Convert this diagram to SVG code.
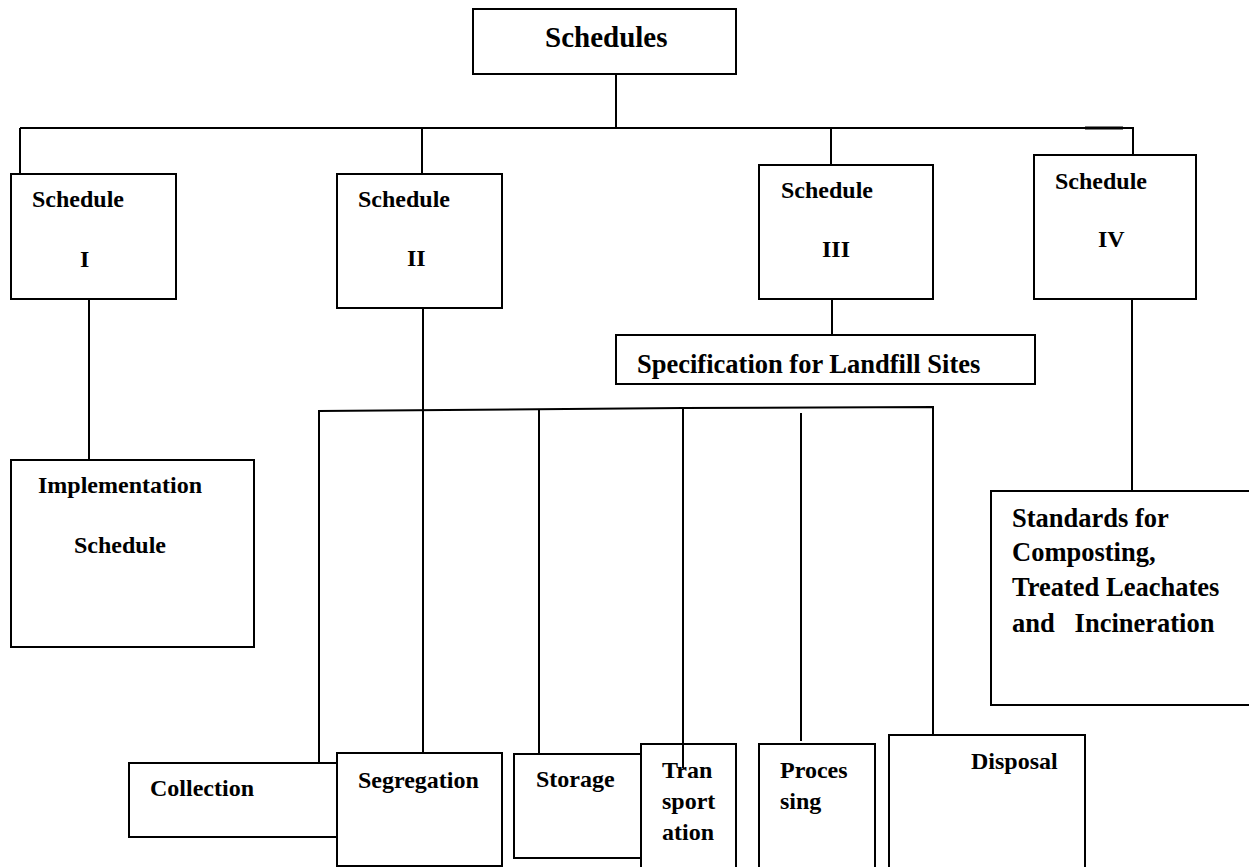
<svg xmlns="http://www.w3.org/2000/svg" width="1249" height="867" viewBox="0 0 1249 867">
<style>
.box{fill:#fff;stroke:#000;stroke-width:2}
.ln{fill:none;stroke:#000;stroke-width:2}
text{font-family:"Liberation Serif","Times New Roman",serif;font-weight:bold;fill:#000;font-size:24px}
.big{font-size:29px}
.mid{font-size:26.5px}
</style>
<rect width="1249" height="867" fill="#fff"/>
<g id="node-schedules"><rect class="box" x="473" y="9" width="263" height="65"/><text class="big" x="545" y="47">Schedules</text></g>
<g id="node-schedule-1"><rect class="box" x="11" y="174" width="165" height="125"/><text x="32" y="207">Schedule</text><text x="80" y="267">I</text></g>
<g id="node-schedule-2"><rect class="box" x="337" y="174" width="165" height="134"/><text x="358" y="207">Schedule</text><text x="407" y="266">II</text></g>
<g id="node-schedule-3"><rect class="box" x="759" y="165" width="174" height="134"/><text x="781" y="198">Schedule</text><text x="822" y="257">III</text></g>
<g id="node-schedule-4"><rect class="box" x="1034" y="155" width="162" height="144"/><text x="1055" y="189">Schedule</text><text x="1098" y="247">IV</text></g>
<g id="node-implementation"><rect class="box" x="11" y="460" width="243" height="187"/><text x="38" y="493">Implementation</text><text x="74" y="553">Schedule</text></g>
<g id="node-landfill"><rect class="box" x="616" y="335" width="419" height="49"/><text class="mid" x="637" y="373">Specification for Landfill Sites</text></g>
<g id="node-standards"><rect class="box" x="991" y="491" width="264" height="214"/><text class="mid" x="1012" y="527">Standards for</text><text class="mid" x="1012" y="561">Composting,</text><text class="mid" x="1012" y="596">Treated Leachates</text><text class="mid" x="1012" y="632" xml:space="preserve">and   Incineration</text></g>
<g id="node-collection"><rect class="box" x="129" y="763" width="210" height="74"/><text x="150" y="796">Collection</text></g>
<g id="node-storage"><rect class="box" x="514" y="754" width="130" height="104"/><text x="536" y="787">Storage</text></g>
<g id="node-segregation"><rect class="box" x="337" y="753" width="165" height="113"/><text x="358" y="788">Segregation</text></g>
<g id="node-transportation"><rect class="box" x="641" y="744" width="95" height="124"/><text x="662" y="778">Tran</text><text x="662" y="809">sport</text><text x="662" y="840">ation</text></g>
<g id="node-processing"><rect class="box" x="759" y="744" width="116" height="124"/><text x="780" y="778">Proces</text><text x="780" y="809">sing</text></g>
<g id="node-disposal"><rect class="box" x="889" y="735" width="196" height="133"/><text x="971" y="769">Disposal</text></g>
<g id="connectors">
<line class="ln" x1="616" y1="74" x2="616" y2="128"/>
<line class="ln" x1="20" y1="128" x2="1133" y2="128"/>
<line x1="1085" y1="128" x2="1123" y2="128" stroke="#000" stroke-width="3"/>
<line class="ln" x1="20" y1="128" x2="20" y2="174"/>
<line class="ln" x1="422" y1="128" x2="422" y2="174"/>
<line class="ln" x1="831" y1="128" x2="831" y2="165"/>
<line class="ln" x1="1133" y1="127" x2="1133" y2="155"/>
<line class="ln" x1="89" y1="299" x2="89" y2="460"/>
<line class="ln" x1="832" y1="299" x2="832" y2="335"/>
<line class="ln" x1="1132" y1="299" x2="1132" y2="491"/>
<line class="ln" x1="423" y1="308" x2="423" y2="753"/>
<polyline class="ln" points="319,763 319,411 683,408 933,407 933,735"/>
<line class="ln" x1="539" y1="410" x2="539" y2="754"/>
<line class="ln" x1="683" y1="407" x2="683" y2="768"/>
<line class="ln" x1="801" y1="413" x2="801" y2="741"/>
</g>
</svg>
